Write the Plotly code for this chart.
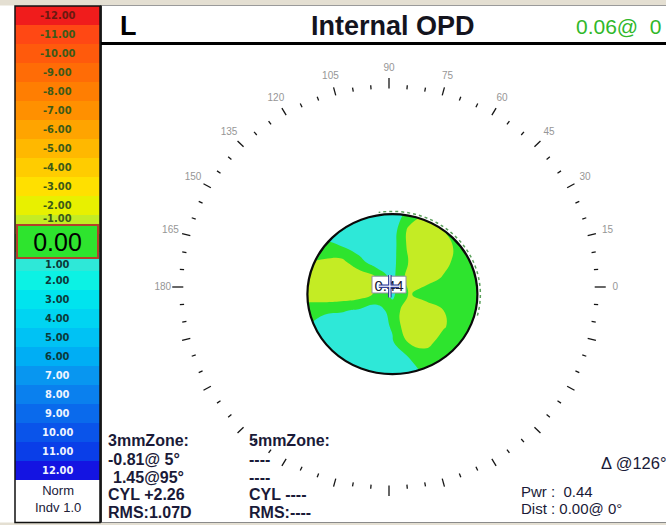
import math
import plotly.graph_objects as go

W, H = 666, 525

# ---- colour scale bands (dioptres) ----
band_values = list(range(-12, 13))
band_colors = [
    "#f01c1c", "#ff4814", "#ff5a0c", "#ff6c06", "#ff7e02", "#ff9000", "#ffa400",
    "#ffb800", "#ffcc00", "#ffe000", "#e8f000", "#c4ec24", "#2ee42e",
    "#2ee8d8", "#0cf2e4", "#00e4ee", "#00d4f2", "#00c2f4", "#00aef4",
    "#0896f0", "#0a80ee", "#0a6aec", "#0a54ea", "#0a3ee8", "#1414e2",
]
band_text_colors = (["#6a1a10"] + ["#3c5a18"] * 11 + ["#000000"]
                    + ["#0c3a3a"] * 6 + ["#eef4ff"] * 6)

# ---- internal OPD map samples (D) on a normalised pupil grid ----
map_u = [-1.0, -0.8, -0.6, -0.4, -0.2, 0.0, 0.2, 0.4, 0.6, 0.8, 1.0]
map_v = [1.0, 0.8, 0.6, 0.4, 0.2, 0.0, -0.2, -0.4, -0.6, -0.8, -1.0]
map_z = [
    [1.0, 1.0, 1.1, 1.2, 1.2, 1.0, 0.2, -0.6, -0.1, 0.0, 0.0],
    [1.0, 1.0, 1.0, 1.2, 1.2, 1.0, -0.8, -1.2, -0.5, 0.0, 0.0],
    [0.6, 0.3, 0.5, 1.0, 1.2, 0.9, -0.8, -1.4, -1.0, -0.1, 0.0],
    [-0.5, -0.7, -0.8, 0.1, 1.0, 0.8, -0.6, -1.4, -0.8, -0.1, 0.0],
    [-0.9, -1.3, -1.4, -1.2, -0.6, 0.8, -1.0, -0.9, -0.4, 0.0, 0.1],
    [-1.0, -1.3, -1.2, -1.0, -0.4, 0.7, -0.6, 0.0, 0.0, 0.1, 0.2],
    [0.0, 0.3, 0.4, 0.6, 1.0, 0.1, -1.2, -1.1, -0.5, 0.0, 0.2],
    [0.5, 1.0, 1.1, 1.2, 1.0, 0.4, -1.4, -1.3, -0.6, 0.0, 0.1],
    [0.8, 1.0, 1.2, 1.2, 1.0, 0.6, -0.6, -0.8, -0.1, 0.1, 0.3],
    [1.0, 1.0, 1.1, 1.2, 1.1, 0.9, 0.5, 0.0, 0.1, 0.3, 0.4],
    [1.0, 1.0, 1.0, 1.1, 1.1, 1.0, 0.8, 0.4, 0.3, 0.4, 0.4],
]
map_center = (0.04, -0.09)   # pupil centre relative to the axis dial
center_value = "0.44"

# ---- axis dial ----
dial_angles = list(range(0, 360, 5))
dial_label_angles = list(range(0, 181, 15))

# ---- header / summary text ----
eye_side = "L"
map_title = "Internal OPD"
header_value = "0.06@  0"
zone3_lines = ["3mmZone:", "-0.81@ 5°", "1.45@95°", "CYL +2.26", "RMS:1.07D"]
zone5_lines = ["5mmZone:", "----", "----", "CYL ----", "RMS:----"]
delta_text = "Δ @126°"
pwr_text = "Pwr :  0.44"
dist_text = "Dist : 0.00@ 0°"
norm_text = "Norm<br>Indv 1.0"

FONT = "Liberation Sans, Arial, sans-serif"
NARROW = "Liberation Sans Narrow, Arial Narrow, DejaVu Sans Condensed, sans-serif"
INK = "#1a1a38"

# pixel geometry of the dial axes
CX, CY, SX, SY = 389.0, 287.0, 85.0, 80.0


def px(x):
    return x / W


def py(y):
    return 1 - y / H


# shared colour scale: value v sits at (v + 13) / 26
def pos(v):
    return (v + 13) / 26.0


colorscale = [[0.0, band_colors[0]]]
for v, c in zip(band_values, band_colors):
    colorscale.append([pos(v), c])
colorscale.append([1.0, band_colors[-1]])

fig = go.Figure()

# wavefront map
xs = [map_center[0] + u for u in map_u]
ys = [map_center[1] + v for v in reversed(map_v)]
zs = [row for row in reversed(map_z)]
fig.add_trace(go.Contour(
    x=xs, y=ys, z=zs, colorscale=colorscale, autocontour=False,
    contours=dict(start=-12.5, end=12.5, size=1, coloring="fill", showlines=False),
    line=dict(width=0, smoothing=1.3), showscale=False, hoverinfo="skip",
))

# dial ticks
RX, RY = 2.42, 2.48
tx, ty = [], []
for a in dial_angles:
    if a % 90 == 0:
        ln = 0.13
    elif a % 15 == 0:
        ln = 0.10
    else:
        ln = 0.05
    c, s = math.cos(math.radians(a)), math.sin(math.radians(a))
    tx += [RX * c, (RX + ln) * c, None]
    ty += [RY * s, (RY + ln * RY / RX) * s, None]
fig.add_trace(go.Scatter(x=tx, y=ty, mode="lines", line=dict(color="#151515", width=1.3),
                         hoverinfo="skip", showlegend=False))

# dial labels
lx = [RX * 1.1 * math.cos(math.radians(a)) for a in dial_label_angles]
ly = [RY * 1.1 * math.sin(math.radians(a)) for a in dial_label_angles]
fig.add_trace(go.Scatter(x=lx, y=ly, mode="text", text=[str(a) for a in dial_label_angles],
                         textfont=dict(family=FONT, size=10, color="#969696"),
                         hoverinfo="skip", showlegend=False))

# colour bar as a heatmap of the band values
fig.add_trace(go.Heatmap(
    x=[0], y=band_values, z=[[v] for v in band_values], colorscale=colorscale,
    zmin=-13, zmax=13, showscale=False, hoverinfo="skip", xaxis="x2", yaxis="y2",
))

shapes = []
# mask outside the pupil
mx, my = map_center
outer = (f"M{mx-1.35},{my-1.35} L{mx+1.35},{my-1.35} L{mx+1.35},{my+1.35} "
         f"L{mx-1.35},{my+1.35} Z")
inner = []
for k in range(0, 361, 4):
    t = math.radians(360 - k)
    inner.append(f"{mx + math.cos(t):.4f},{my + math.sin(t):.4f}")
mask = outer + " M" + " L".join(inner) + " Z"
shapes.append(dict(type="path", path=mask, xref="x", yref="y", fillcolor="white",
                   line=dict(width=0), layer="above"))
# faint outer rim on the upper right
arc = []
for k in range(-15, 101, 3):
    t = math.radians(k)
    arc.append(f"{mx + 1.035 * math.cos(t):.4f},{my + 1.035 * math.sin(t):.4f}")
shapes.append(dict(type="path", path="M" + " L".join(arc), xref="x", yref="y",
                   line=dict(color="#5aa05a", width=1.5, dash="dot"), layer="above"))
# pupil outline
shapes.append(dict(type="circle", xref="x", yref="y", x0=mx - 1, x1=mx + 1,
                   y0=my - 1, y1=my + 1, line=dict(color="#0a0a0a", width=2.2),
                   layer="above"))
# centre value box with cross
shapes.append(dict(type="rect", xref="x", yref="y", x0=-0.2, x1=0.2, y0=-0.075, y1=0.135,
                   fillcolor="white", line=dict(color="#9090a0", width=1), layer="above",
                   label=dict(text=center_value, textposition="middle center",
                              font=dict(family=FONT, size=15, color="#202030"))))
for w, col in ((3.5, "#2a3a9a"), (1.2, "white")):
    shapes.append(dict(type="line", xref="x", yref="y", x0=0.01, x1=0.01, y0=-0.13, y1=0.15,
                       line=dict(color=col, width=w), layer="above"))
    shapes.append(dict(type="line", xref="x", yref="y", x0=-0.12, x1=0.12, y0=0.01, y1=0.01,
                       line=dict(color=col, width=w), layer="above"))

# frame: top and bottom strips, panel border, header rule, colour bar outline
shapes.append(dict(type="rect", xref="paper", yref="paper", x0=0, x1=1, y0=py(5.5), y1=1,
                   fillcolor="#e4dfd2", line=dict(width=0), layer="above"))
shapes.append(dict(type="line", xref="paper", yref="paper", x0=px(100), x1=1, y0=py(5.5),
                   y1=py(5.5), line=dict(color="#9a9a9a", width=1), layer="above"))
shapes.append(dict(type="rect", xref="paper", yref="paper", x0=0, x1=1, y0=0, y1=py(522.5),
                   fillcolor="#e4dfd2", line=dict(width=0), layer="above"))
shapes.append(dict(type="line", xref="paper", yref="paper", x0=px(100), x1=1, y0=py(522.5),
                   y1=py(522.5), line=dict(color="#8a8a8a", width=1), layer="above"))
shapes.append(dict(type="line", xref="paper", yref="paper", x0=px(101), x1=px(101),
                   y0=py(522.5), y1=py(5.5), line=dict(color="#2a2a2a", width=2), layer="above"))
shapes.append(dict(type="line", xref="paper", yref="paper", x0=px(101), x1=1, y0=py(43.5),
                   y1=py(43.5), line=dict(color="#000000", width=3), layer="above"))
shapes.append(dict(type="rect", xref="paper", yref="paper", x0=px(15), x1=px(100),
                   y0=py(522.5), y1=py(6), line=dict(color="#111111", width=1.5),
                   layer="above"))


def note(x, y, text, size, color, anchor="center", family=FONT, **kw):
    return dict(x=px(x), y=py(y), xref="paper", yref="paper", text=text, showarrow=False,
                xanchor=anchor, yanchor="middle", font=dict(family=family, size=size,
                                                            color=color), **kw)


annotations = []
# colour bar labels (the two next to the 0.00 box sit at its edges)
label_nudge = {-1: -0.3, 1: 0.15}
for v, tc in zip(band_values, band_text_colors):
    if v == 0:
        continue
    annotations.append(dict(x=0, y=v + label_nudge.get(v, 0), xref="x2", yref="y2",
                            text=f"<b>{v:.2f}</b>", showarrow=False, xanchor="center",
                            yanchor="middle", font=dict(family=NARROW, size=11, color=tc)))
annotations.append(dict(x=0, y=-0.08, xref="x2", yref="y2", text="0.00", showarrow=False,
                        xanchor="center", yanchor="middle",
                        font=dict(family=FONT, size=25, color="#000000"),
                        bgcolor=band_colors[12], bordercolor="#b4402a", borderwidth=2,
                        borderpad=1, width=77, height=29))
annotations.append(note(57.5, 499, norm_text, 13, "#202038", align="center"))

# header
annotations.append(note(128, 25.5, f"<b>{eye_side}</b>", 27, "#000000"))
annotations.append(note(393, 25.5, f"<b>{map_title}</b>", 27, "#14141e"))
annotations.append(note(574, 26, header_value, 21, "#30b82a", anchor="left"))

# zone summaries
zone_rows = [440, 459.5, 477, 494.5, 512]
for i, (t3, t5) in enumerate(zip(zone3_lines, zone5_lines)):
    x3 = 111 if i == 2 else 106
    annotations.append(note(x3, zone_rows[i], f"<b>{t3}</b>", 16, INK, anchor="left"))
    annotations.append(note(247, zone_rows[i], f"<b>{t5}</b>", 16, INK, anchor="left"))

annotations.append(note(599, 463, delta_text, 16.5, INK, anchor="left"))
annotations.append(note(519, 491, pwr_text, 15, INK, anchor="left"))
annotations.append(note(519, 508, dist_text, 15, INK, anchor="left"))

fig.update_layout(
    width=W, height=H, margin=dict(l=0, r=0, t=0, b=0),
    paper_bgcolor="white", plot_bgcolor="rgba(0,0,0,0)", showlegend=False,
    xaxis=dict(domain=[0, 1], range=[(0 - CX) / SX, (W - CX) / SX], visible=False,
               fixedrange=True),
    yaxis=dict(domain=[0, 1], range=[(CY - H) / SY, CY / SY], visible=False,
               fixedrange=True),
    xaxis2=dict(domain=[px(15), px(100)], range=[-0.5, 0.5], anchor="y2", visible=False,
                fixedrange=True),
    yaxis2=dict(domain=[py(480), py(6)], range=[12.5, -12.5], anchor="x2", visible=False,
                fixedrange=True),
    shapes=shapes, annotations=annotations,
)

fig.write_html("out.html")
